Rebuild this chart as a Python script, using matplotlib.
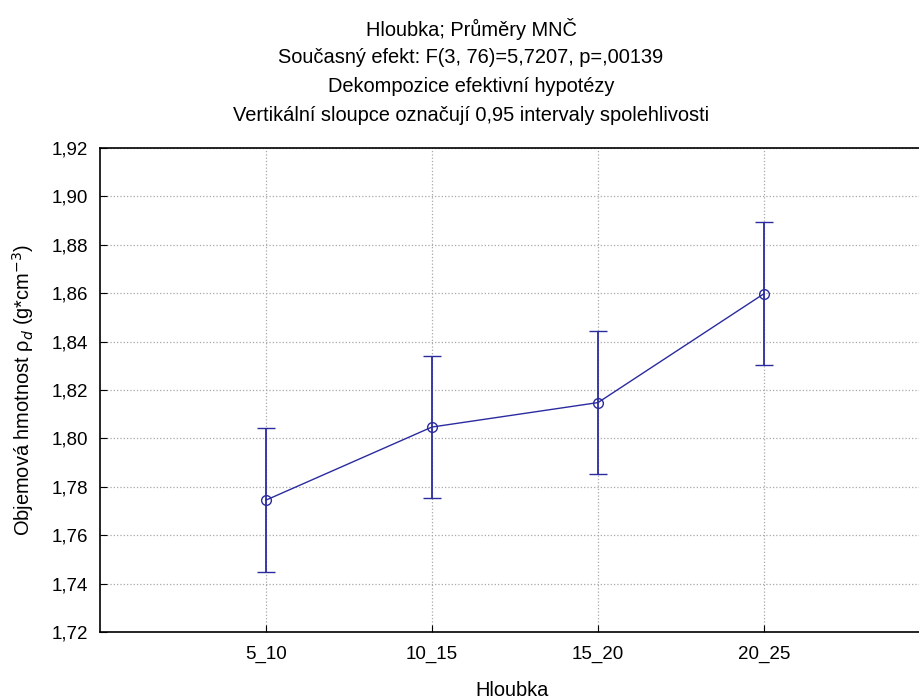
import matplotlib.pyplot as plt

# Hloubka - průměry MNČ s 95% intervaly spolehlivosti
hloubky = ['5_10', '10_15', '15_20', '20_25']
prumery = [1.7745, 1.8047, 1.8148, 1.8598]
dolni_mez = [1.7447, 1.7752, 1.7852, 1.8302]
horni_mez = [1.8043, 1.8342, 1.8444, 1.8894]

plt.rcParams['font.family'] = ['Liberation Sans', 'DejaVu Sans']
barva = '#2b2ba0'

fig = plt.figure(figsize=(9.19, 6.98), dpi=100)
ax = fig.add_axes([100 / 919, 66 / 698, 830 / 919, 484 / 698])

x = list(range(1, len(hloubky) + 1))
yerr = [[p - d for p, d in zip(prumery, dolni_mez)],
        [h - p for p, h in zip(prumery, horni_mez)]]
ax.errorbar(x, prumery, yerr=yerr, color=barva, lw=1, marker='o', ms=7,
            mfc='none', mec=barva, mew=1, capsize=6.5, elinewidth=1.3,
            capthick=1.3, zorder=3)

ax.set_xlim(0, 5)
ax.set_ylim(1.72, 1.92)
ax.set_xticks(x)
ax.set_xticklabels(hloubky)
ax.set_yticks([1.72 + 0.02 * i for i in range(11)])
ax.yaxis.set_major_formatter(plt.FuncFormatter(lambda v, p: f'{v:.2f}'.replace('.', ',')))
ax.tick_params(direction='in', length=5, labelsize=13.5, colors='black')
ax.tick_params(axis='x', pad=10)
ax.tick_params(axis='y', pad=8.5)
ax.grid(True, ls=':', color='#a8a8a8', lw=0.9)
for s in ax.spines.values():
    s.set_linewidth(1.2)

ax.set_ylabel('Objemová hmotnost ρ$_d$ (g*cm$^{-3}$)', fontsize=14.4, labelpad=11)
fig.text(512 / 919, 1 - 690 / 698, 'Hloubka', ha='center', va='center', fontsize=14.4)

nadpis = ['Hloubka; Průměry MNČ',
          'Současný efekt: F(3, 76)=5,7207, p=,00139',
          'Dekompozice efektivní hypotézy',
          'Vertikální sloupce označují 0,95 intervaly spolehlivosti']
for i, t in enumerate(nadpis):
    fig.text(471 / 919, 1 - (29 + 28.7 * i) / 698, t, ha='center', va='center', fontsize=14.4)

fig.savefig('out.png', dpi=100)
